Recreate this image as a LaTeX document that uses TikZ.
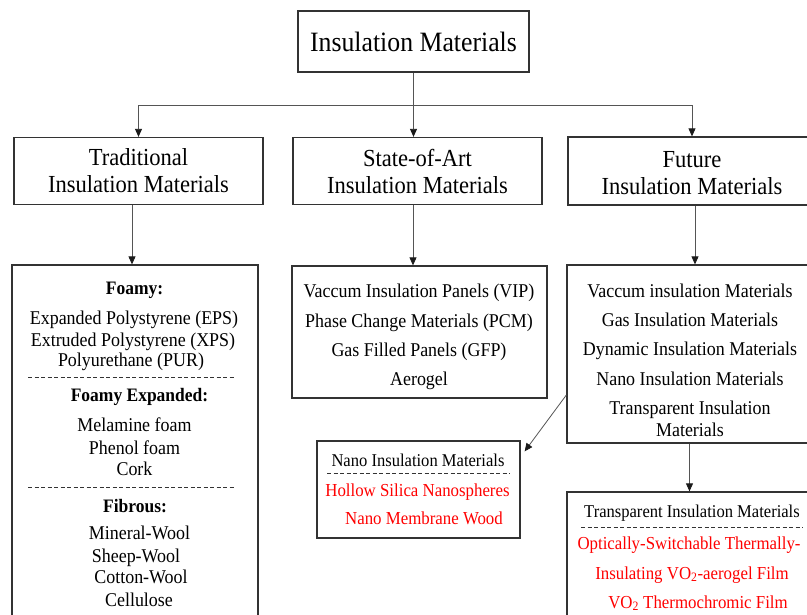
\documentclass[tikz,border=0pt]{standalone}
\usepackage{fontspec}
\setmainfont{Liberation Serif}[FakeStretch=0.92]
\usetikzlibrary{arrows.meta,calc}
\definecolor{boxc}{HTML}{333333}
\definecolor{linec}{HTML}{555555}
\definecolor{tipc}{HTML}{1A1A1A}
\definecolor{sepc}{HTML}{333333}
\begin{document}
\begin{tikzpicture}[x=1pt,y=-1pt,
  box/.style={draw=boxc, line width=1.3pt, inner sep=0pt, align=center},
  arr/.style={draw=linec, line width=0.8pt, -{Triangle[length=8pt,width=7pt,color=tipc]}},
  conn/.style={draw=linec, line width=0.8pt},
  sep/.style={draw=sepc, line width=0.9pt, dash pattern=on 4pt off 2.5pt},
  txt/.style={anchor=base, inner sep=0pt, font=\fontsize{19.5}{22}\selectfont},
  hd/.style={txt, font=\fontsize{19}{22}\selectfont\bfseries},
  sm/.style={txt, font=\fontsize{18}{21}\selectfont},
  rd/.style={txt, text=red, font=\fontsize{18.3}{21}\selectfont}]
\useasboundingbox (0,0) rectangle (807,614);
\fill[white] (0,0) rectangle (807,614);

% level 1 and 2
\node[box, minimum width=231pt, minimum height=61pt, font=\fontsize{28}{32}\selectfont] (top) at (413.5,41.5) {Insulation Materials};
\node[box, minimum width=249pt, minimum height=67pt, font=\fontsize{24.5}{27}\selectfont] (trad) at (138.5,171) {Traditional\\Insulation Materials};
\node[box, minimum width=249pt, minimum height=67pt, font=\fontsize{24.5}{27}\selectfont] (state) at (417.5,171) {State-of-Art\\Insulation Materials};
\node[box, minimum width=290pt, minimum height=68pt] (future) at (713,171) {};
\node[font=\fontsize{24.5}{27}\selectfont, align=center, inner sep=0pt] (futuret) at (692,173) {Future\\Insulation Materials};

% content boxes
\node[box, minimum width=246pt, minimum height=380pt] (tradc) at (135,455) {};
\node[box, minimum width=255pt, minimum height=132pt] (statec) at (419.5,332) {};
\node[box, minimum width=290pt, minimum height=178pt] (futurec) at (712,354) {};
\node[box, minimum width=203pt, minimum height=97pt] (nano) at (418.5,489.5) {};
\node[box, minimum width=290pt, minimum height=160pt] (transp) at (712,572) {};

% connectors
\path (top.south) ++(0,33) coordinate (hub);
\draw[conn] (top.south) -- (hub);
\path (692,0) coordinate (c3);
\draw[arr] (hub) -| (trad.north);
\draw[arr] (hub) -- (hub |- state.north);
\draw[arr] (hub) -| (c3 |- future.north);
\path ([xshift=-6.5pt]trad.south) coordinate (ts);
\draw[arr] (ts) -- (ts |- tradc.north);
\path ([xshift=-4.5pt]state.south) coordinate (ss);
\draw[arr] (ss) -- (ss |- statec.north);
\path (695,0) coordinate (fs);
\draw[arr] (fs |- future.south) -- (fs |- futurec.north);
\path (689.5,0) coordinate (fcs);
\draw[arr] (fcs |- futurec.south) -- (fcs |- transp.north);
\draw[arr] ([yshift=-41pt]futurec.west) -- ([shift={(4,11)}]nano.north east);

% traditional content
\node[hd]  (tA) at (134.5,294) {Foamy:};
\node[txt] (tA1) at (134,324) {Expanded Polystyrene (EPS)};
\node[txt] (tA2) at (133,346) {Extruded Polystyrene (XPS)};
\node[txt] (tA3) at (131,366) {Polyurethane (PUR)};
\draw[sep] (28,377) -- (235,377);
\node[hd]  (tB) at (139.5,401) {Foamy Expanded:};
\node[txt] (tB1) at (134.5,431) {Melamine foam};
\node[txt] (tB2) at (134.5,454) {Phenol foam};
\node[txt] (tB3) at (134.5,475) {Cork};
\draw[sep] (28,487) -- (235,487);
\node[hd]  (tC) at (135,512) {Fibrous:};
\node[txt] (tC1) at (139.5,539) {Mineral-Wool};
\node[txt] (tC2) at (136,562) {Sheep-Wool};
\node[txt] (tC3) at (141,583) {Cotton-Wool};
\node[txt] (tC4) at (139,606) {Cellulose};

% state-of-art content
\node[txt] (s1) at (419,297) {Vaccum Insulation Panels (VIP)};
\node[txt] (s2) at (419,327) {Phase Change Materials (PCM)};
\node[txt] (s3) at (419,356) {Gas Filled Panels (GFP)};
\node[txt] (s4) at (419,385) {Aerogel};

% future content
\node[txt] (f1) at (690,297) {Vaccum insulation Materials};
\node[txt] (f2) at (690,326) {Gas Insulation Materials};
\node[txt] (f3) at (690,355) {Dynamic Insulation Materials};
\node[txt] (f4) at (690,385) {Nano Insulation Materials};
\node[txt] (f5) at (690,414) {Transparent Insulation};
\node[txt] (f6) at (690,436) {Materials};

% nano box
\node[sm] (n0) at (418,466) {Nano Insulation Materials};
\draw[sep] (327,473) -- (510,473);
\node[rd] (n1) at (417.5,496) {Hollow Silica Nanospheres};
\node[rd] (n2) at (424,524) {Nano Membrane Wood};

% transparent box
\node[sm] (p0) at (692,517) {Transparent Insulation Materials};
\draw[sep] (581,527) -- (803,527);
\node[rd] (p1) at (689,549) {Optically-Switchable Thermally-};
\node[rd] (p2) at (692,579) {Insulating VO\textsubscript{2}-aerogel Film};
\node[rd] (p3) at (698,608) {VO\textsubscript{2} Thermochromic Film};
\end{tikzpicture}
\end{document}
